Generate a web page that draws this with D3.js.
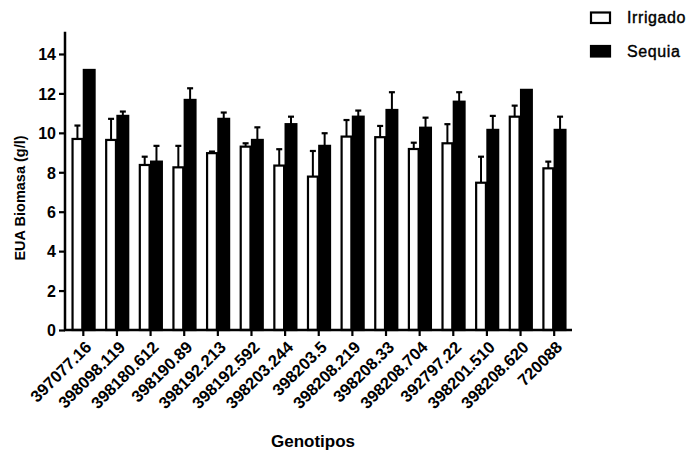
<!DOCTYPE html>
<html>
<head>
<meta charset="utf-8">
<script src="https://cdn.jsdelivr.net/npm/d3@7"></script>
<style>
  html, body { margin: 0; padding: 0; background: #fff; }
  svg { display: block; }
  text { font-family: "Liberation Sans", Arial, sans-serif; fill: #000; }
</style>
</head>
<body>
<svg id="chart" width="695" height="459"></svg>
<script>
const genotipos = ["397077.16", "398098.119", "398180.612", "398190.89", "398192.213",
  "398192.592", "398203.244", "398203.5", "398208.219", "398208.33",
  "398208.704", "392797.22", "398201.510", "398208.620", "720088"];
const irrigado    = [9.69, 9.64, 8.37, 8.25, 8.97, 9.30, 8.34, 7.78, 9.81, 9.78, 9.18, 9.47, 7.47, 10.82, 8.20];
const irrigadoErr = [0.68, 1.07, 0.42, 1.09, 0.08, 0.17, 0.83, 1.30, 0.84, 0.57, 0.32, 0.97, 1.32, 0.56, 0.34];
const sequia      = [13.19, 10.86, 8.54, 11.67, 10.71, 9.64, 10.44, 9.34, 10.82, 11.16, 10.26, 11.58, 10.15, 12.18, 10.15];
const sequiaErr   = [0.00, 0.22, 0.80, 0.59, 0.32, 0.64, 0.38, 0.64, 0.31, 0.90, 0.51, 0.48, 0.71, 0.00, 0.67];
const series = ["Irrigado", "Sequia"];
const yTicks = [0, 2, 4, 6, 8, 10, 12, 14];
const yTitle = "EUA Biomasa (g/l)";
const xTitle = "Genotipos";

const svg = d3.select("#chart");
const x0 = d3.scaleBand().domain(genotipos).range([66.5, 571]).paddingInner(0.3).paddingOuter(0.15);
const x1 = d3.scaleBand().domain(series).range([0, x0.bandwidth()]).padding(0);
const y = d3.scaleLinear().domain([0, 15.13]).range([330, 31.7]);
const color = { Irrigado: "#fff", Sequia: "#000" };

const rows = genotipos.map((g, i) => ({
  g,
  vals: [
    { s: "Irrigado", v: irrigado[i], e: irrigadoErr[i] },
    { s: "Sequia", v: sequia[i], e: sequiaErr[i] }
  ]
}));

const groups = svg.append("g").selectAll("g").data(rows).join("g")
  .attr("transform", d => `translate(${x0(d.g)},0)`);

groups.selectAll("g.err").data(d => d.vals).join("g").attr("class", "err")
  .each(function(d) {
    const cx = x1(d.s) + x1.bandwidth() / 2;
    const g = d3.select(this);
    if (d.e > 0) {
      g.append("line").attr("x1", cx).attr("x2", cx)
        .attr("y1", y(d.v)).attr("y2", y(d.v + d.e))
        .attr("stroke", "#000").attr("stroke-width", 2);
      g.append("line").attr("x1", cx - 3).attr("x2", cx + 3)
        .attr("y1", y(d.v + d.e)).attr("y2", y(d.v + d.e))
        .attr("stroke", "#000").attr("stroke-width", 2.2);
    }
  });

groups.selectAll("rect").data(d => d.vals).join("rect")
  .attr("x", d => x1(d.s) + (d.s === "Sequia" ? 0.5 : 1))
  .attr("width", d => x1.bandwidth() - (d.s === "Sequia" ? 1 : 2))
  .attr("y", d => y(d.v))
  .attr("height", d => y(0) - y(d.v))
  .attr("fill", d => color[d.s])
  .attr("stroke", "#000")
  .attr("stroke-width", 2.2);

// Y axis
const yAxis = svg.append("g").attr("transform", "translate(65,0)")
  .call(d3.axisLeft(y).tickValues(yTicks).tickSize(6).tickPadding(3).tickFormat(d3.format("d")));
yAxis.select(".domain").attr("d", `M0,${y(15.13)}V${y(0) + 1}`).attr("stroke-width", 2.5);
yAxis.selectAll(".tick line").attr("stroke-width", 2.2);
yAxis.selectAll("text").style("font-size", "16px").style("font-weight", "bold").attr("dy", "0.36em");

// X axis
const xAxis = svg.append("g").attr("transform", `translate(0,${y(0)})`)
  .call(d3.axisBottom(x0).tickSize(6).tickSizeOuter(0));
xAxis.select(".domain").attr("d", "M64,0H572").attr("stroke-width", 2.5);
xAxis.selectAll(".tick line").attr("stroke-width", 2.2);
xAxis.selectAll("text")
  .style("font-size", "16.5px").style("font-weight", "bold")
  .attr("text-anchor", "end")
  .attr("transform", "translate(1,10) rotate(-45)")
  .attr("dy", "0.7em").attr("x", 0).attr("y", 0);

// Titles
svg.append("text").attr("transform", "translate(25,198) rotate(-90)")
  .attr("text-anchor", "middle").style("font-size", "14.5px").style("font-weight", "bold")
  .text(yTitle);
svg.append("text").attr("x", 313).attr("y", 447)
  .attr("text-anchor", "middle").style("font-size", "17px").style("font-weight", "bold")
  .text(xTitle);

// Legend
const leg = svg.append("g").selectAll("g").data(series).join("g")
  .attr("transform", (d, i) => `translate(591,${12.5 + i * 33.5})`);
leg.append("rect").attr("width", 19).attr("height", 10.5)
  .attr("fill", d => color[d]).attr("stroke", "#000").attr("stroke-width", 2.2);
leg.append("text").attr("x", 36).attr("y", 10.5)
  .style("font-size", "16px").style("letter-spacing", "0.6px").style("stroke", "#000").style("stroke-width", "0.4px")
  .text(d => d);
</script>
</body>
</html>
